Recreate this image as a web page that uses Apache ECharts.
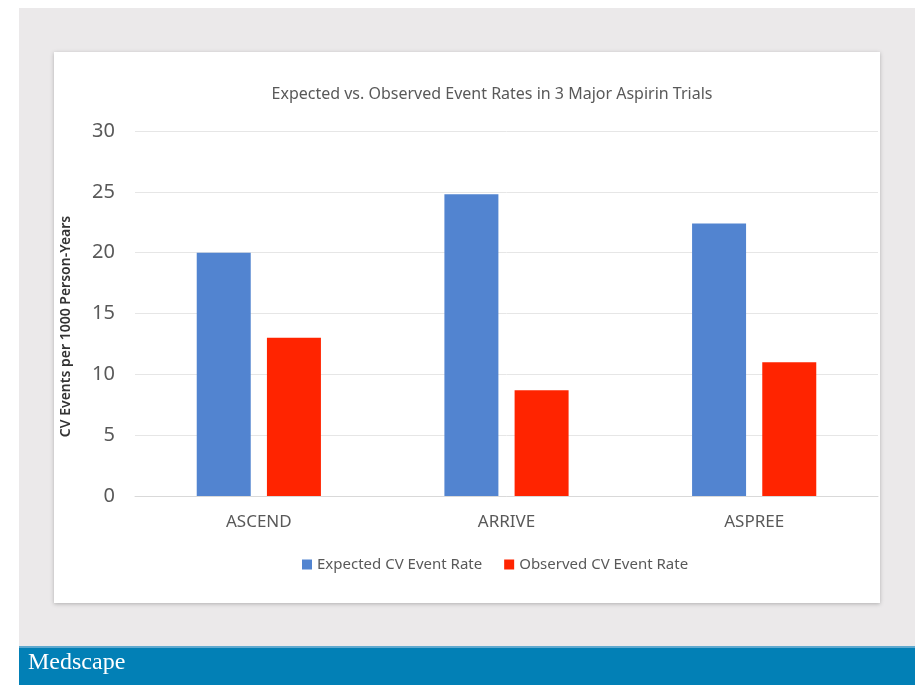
<!DOCTYPE html>
<html>
<head>
<meta charset="utf-8">
<script src="https://cdn.jsdelivr.net/npm/echarts@6/dist/echarts.min.js"></script>
<style>
  html, body { margin: 0; padding: 0; background: #fff; }
  #chart { width: 921px; height: 685px; }
</style>
</head>
<body>
<div id="chart"></div>
<script>
// trial names and rates (events per 1000 person-years)
var trials = ['ASCEND', 'ARRIVE', 'ASPREE'];
var expectedRate = [20, 24.8, 22.4];
var observedRate = [13, 8.7, 11];
var seriesNames = ['Expected CV Event Rate', 'Observed CV Event Rate'];

var myChart = echarts.init(document.getElementById('chart'));

var labelColor = '#595959';
var font = 'Noto Sans';

var option = {
  backgroundColor: '#ffffff',
  textStyle: { fontFamily: font },
  graphic: [
    // page backdrop, card and footer strip
    { type: 'rect', z: -10, shape: { x: 19, y: 8, width: 896, height: 640 }, style: { fill: '#ebe9ea' } },
    { type: 'rect', z: -9, shape: { x: 54, y: 52, width: 826, height: 551 },
      style: { fill: '#ffffff', shadowBlur: 4, shadowColor: 'rgba(0,0,0,0.25)', shadowOffsetY: 1 } },
    { type: 'rect', z: -8, shape: { x: 19, y: 647, width: 896, height: 38 }, style: { fill: '#0280b6' } },
    { type: 'rect', z: -8, shape: { x: 19, y: 646, width: 896, height: 2 }, style: { fill: '#5fa9cf' } },
    { type: 'text', z: 10, left: 28, top: 651,
      style: { text: 'Medscape', fill: '#ffffff', font: '24px "Liberation Serif"' } }
  ],
  title: {
    text: 'Expected vs. Observed Event Rates in 3 Major Aspirin Trials',
    left: 487,
    textAlign: 'center',
    top: 81,
    textStyle: { color: labelColor, fontSize: 16, fontWeight: 'normal', fontFamily: font }
  },
  legend: {
    data: seriesNames,
    bottom: 108,
    left: 297,
    icon: 'rect',
    itemWidth: 10,
    itemHeight: 10,
    itemGap: 22,
    textStyle: { color: labelColor, fontSize: 15, fontFamily: font }
  },
  grid: { left: 135, right: 43, top: 131, bottom: 189 },
  xAxis: {
    type: 'category',
    data: trials,
    axisLine: { lineStyle: { color: '#d9d9d9' } },
    axisTick: { show: false },
    axisLabel: { color: labelColor, fontSize: 17, margin: 18, fontFamily: font }
  },
  yAxis: {
    type: 'value',
    min: 0,
    max: 30,
    interval: 5,
    name: 'CV Events per 1000 Person-Years',
    nameLocation: 'middle',
    nameGap: 62,
    nameTextStyle: { color: '#333333', fontSize: 14, fontWeight: 600, fontFamily: font, padding: [0, 0, 0, -26] },
    axisLine: { show: false },
    axisTick: { show: false },
    axisLabel: { color: labelColor, fontSize: 20, margin: 20, fontFamily: font },
    splitLine: { lineStyle: { color: '#e6e6e6' } }
  },
  series: [
    {
      name: seriesNames[0],
      type: 'bar',
      data: expectedRate,
      barWidth: 54,
      barGap: '30%',
      itemStyle: { color: '#5284d0' }
    },
    {
      name: seriesNames[1],
      type: 'bar',
      data: observedRate,
      barWidth: 54,
      itemStyle: { color: '#ff2400' }
    }
  ]
};

myChart.setOption(option);
</script>
</body>
</html>
